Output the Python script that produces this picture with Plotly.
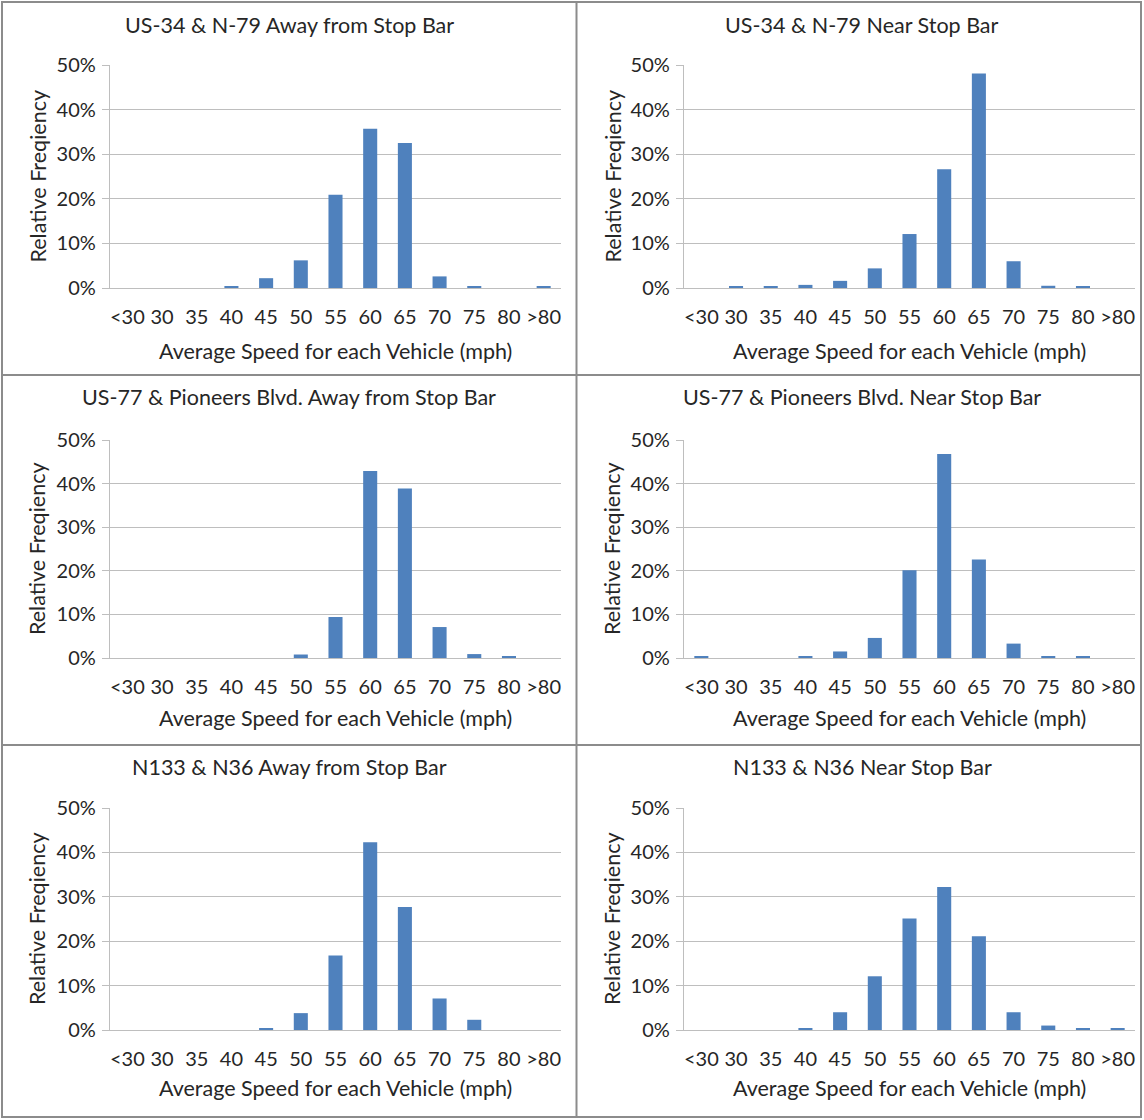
import plotly.graph_objects as go

# Speed bins shared by every histogram
speed_bins = ["<30", "30", "35", "40", "45", "50", "55", "60", "65", "70", "75", "80", ">80"]

# Relative frequency (%) per bin
us34_away = [0, 0, 0, 0.45, 2.2, 6.2, 20.9, 35.7, 32.5, 2.6, 0.3, 0, 0.3]
us34_near = [0, 0.3, 0.3, 0.7, 1.6, 4.4, 12.1, 26.6, 48.1, 6.0, 0.5, 0.3, 0]
us77_away = [0, 0, 0, 0, 0, 0.8, 9.4, 42.9, 38.9, 7.1, 0.9, 0.3, 0]
us77_near = [0.25, 0, 0, 0.4, 1.5, 4.6, 20.1, 46.8, 22.6, 3.3, 0.4, 0.4, 0]
n133_away = [0, 0, 0, 0, 0.4, 3.8, 16.8, 42.3, 27.7, 7.1, 2.3, 0, 0]
n133_near = [0, 0, 0, 0.4, 4.0, 12.1, 25.1, 32.2, 21.1, 4.0, 1.0, 0.35, 0.35]

titles = [
    "US-34 & N-79 Away from Stop Bar",
    "US-34 & N-79 Near Stop Bar",
    "US-77 & Pioneers Blvd. Away from Stop Bar",
    "US-77 & Pioneers Blvd. Near Stop Bar",
    "N133 & N36 Away from Stop Bar",
    "N133 & N36 Near Stop Bar",
]
series = [us34_away, us34_near, us77_away, us77_near, n133_away, n133_near]

y_label = "Relative Freqiency"
x_label = "Average Speed for each Vehicle (mph)"

W, H = 1144, 1120
FONT = "Lato, Carlito, Calibri, sans-serif"
TXT = "#262626"
BAR = "#4F81BD"
GRID = "#BEBEBE"
FRAME = "#8C8C8C"
TICK_SIZE = 20
TEXT_SIZE = 21.5


def fx(px):
    return px / W


def fy(py):
    return 1 - py / H


# Plot-area pixel boxes: (left, right, top(50%), bottom(0%)) and panel centre x
boxes = [
    (110, 561, 65, 288, 289),
    (684, 1135, 65, 288, 862),
    (110, 561, 440, 658, 289),
    (684, 1135, 440, 658, 862),
    (110, 561, 808, 1030, 289),
    (684, 1135, 808, 1030, 862),
]
title_y = [25, 25, 397, 397, 767, 767]
xlabel_y = [351, 351, 718, 718, 1088, 1088]
ylabel_x = [37, 612, 37, 612, 37, 612]

fig = go.Figure()
annotations = []
layout_axes = {}

for i, (vals, title, box) in enumerate(zip(series, titles, boxes)):
    n = i + 1
    xa = "x" if n == 1 else f"x{n}"
    ya = "y" if n == 1 else f"y{n}"
    xkey = "xaxis" if n == 1 else f"xaxis{n}"
    ykey = "yaxis" if n == 1 else f"yaxis{n}"
    left, right, top, bottom, cx = box

    fig.add_trace(go.Bar(
        x=speed_bins, y=[v / 100 for v in vals], xaxis=xa, yaxis=ya,
        marker=dict(color=BAR, line=dict(width=0)), showlegend=False,
        hovertemplate="%{x}: %{y:.1%}<extra></extra>",
    ))

    layout_axes[xkey] = dict(
        domain=[fx(left), fx(right)], anchor=ya, type="category",
        categoryorder="array", categoryarray=speed_bins,
        showline=True, linecolor=GRID, linewidth=1.3, ticks="",
        showgrid=False, zeroline=False, ticklabelstandoff=11,
        tickfont=dict(family=FONT, size=TICK_SIZE, color=TXT),
        automargin=False, fixedrange=True,
    )
    layout_axes[ykey] = dict(
        domain=[fy(bottom), fy(top)], anchor=xa, range=[0, 0.5],
        dtick=0.1, tick0=0, tickformat=".0%",
        showline=True, linecolor=GRID, linewidth=1.3,
        ticks="outside", ticklen=7, tickcolor=GRID, tickwidth=1.3,
        showgrid=True, gridcolor=GRID, gridwidth=1.3, zeroline=False,
        tickfont=dict(family=FONT, size=TICK_SIZE, color=TXT), ticklabelstandoff=2,
        automargin=False, fixedrange=True,
    )

    annotations.append(dict(
        text=title, x=fx(cx), y=fy(title_y[i]), xref="paper", yref="paper",
        showarrow=False, xanchor="center", yanchor="middle",
        font=dict(family=FONT, size=TEXT_SIZE, color=TXT),
    ))
    annotations.append(dict(
        text=x_label, x=fx((left + right) / 2), y=fy(xlabel_y[i]),
        xref="paper", yref="paper", showarrow=False,
        xanchor="center", yanchor="middle",
        font=dict(family=FONT, size=TEXT_SIZE, color=TXT),
    ))
    annotations.append(dict(
        text=y_label, x=fx(ylabel_x[i]), y=fy((top + bottom) / 2),
        xref="paper", yref="paper", showarrow=False, textangle=-90,
        xanchor="center", yanchor="middle",
        font=dict(family=FONT, size=TEXT_SIZE, color=TXT),
    ))

# Frame around the six panels
shapes = [
    dict(type="rect", xref="paper", yref="paper",
         x0=fx(2), x1=fx(1141), y0=fy(1117), y1=fy(2),
         line=dict(color=FRAME, width=2)),
    dict(type="line", xref="paper", yref="paper",
         x0=fx(576.5), x1=fx(576.5), y0=fy(1117), y1=fy(2),
         line=dict(color=FRAME, width=2)),
    dict(type="line", xref="paper", yref="paper",
         x0=fx(2), x1=fx(1141), y0=fy(375), y1=fy(375),
         line=dict(color=FRAME, width=2)),
    dict(type="line", xref="paper", yref="paper",
         x0=fx(2), x1=fx(1141), y0=fy(745), y1=fy(745),
         line=dict(color=FRAME, width=2)),
]

fig.update_layout(
    template="none",
    width=W, height=H, autosize=False,
    margin=dict(l=0, r=0, t=0, b=0, pad=0, autoexpand=False),
    paper_bgcolor="white", plot_bgcolor="white",
    bargap=0.595, showlegend=False,
    annotations=annotations, shapes=shapes,
    **layout_axes,
)

fig.write_html("out.html")
